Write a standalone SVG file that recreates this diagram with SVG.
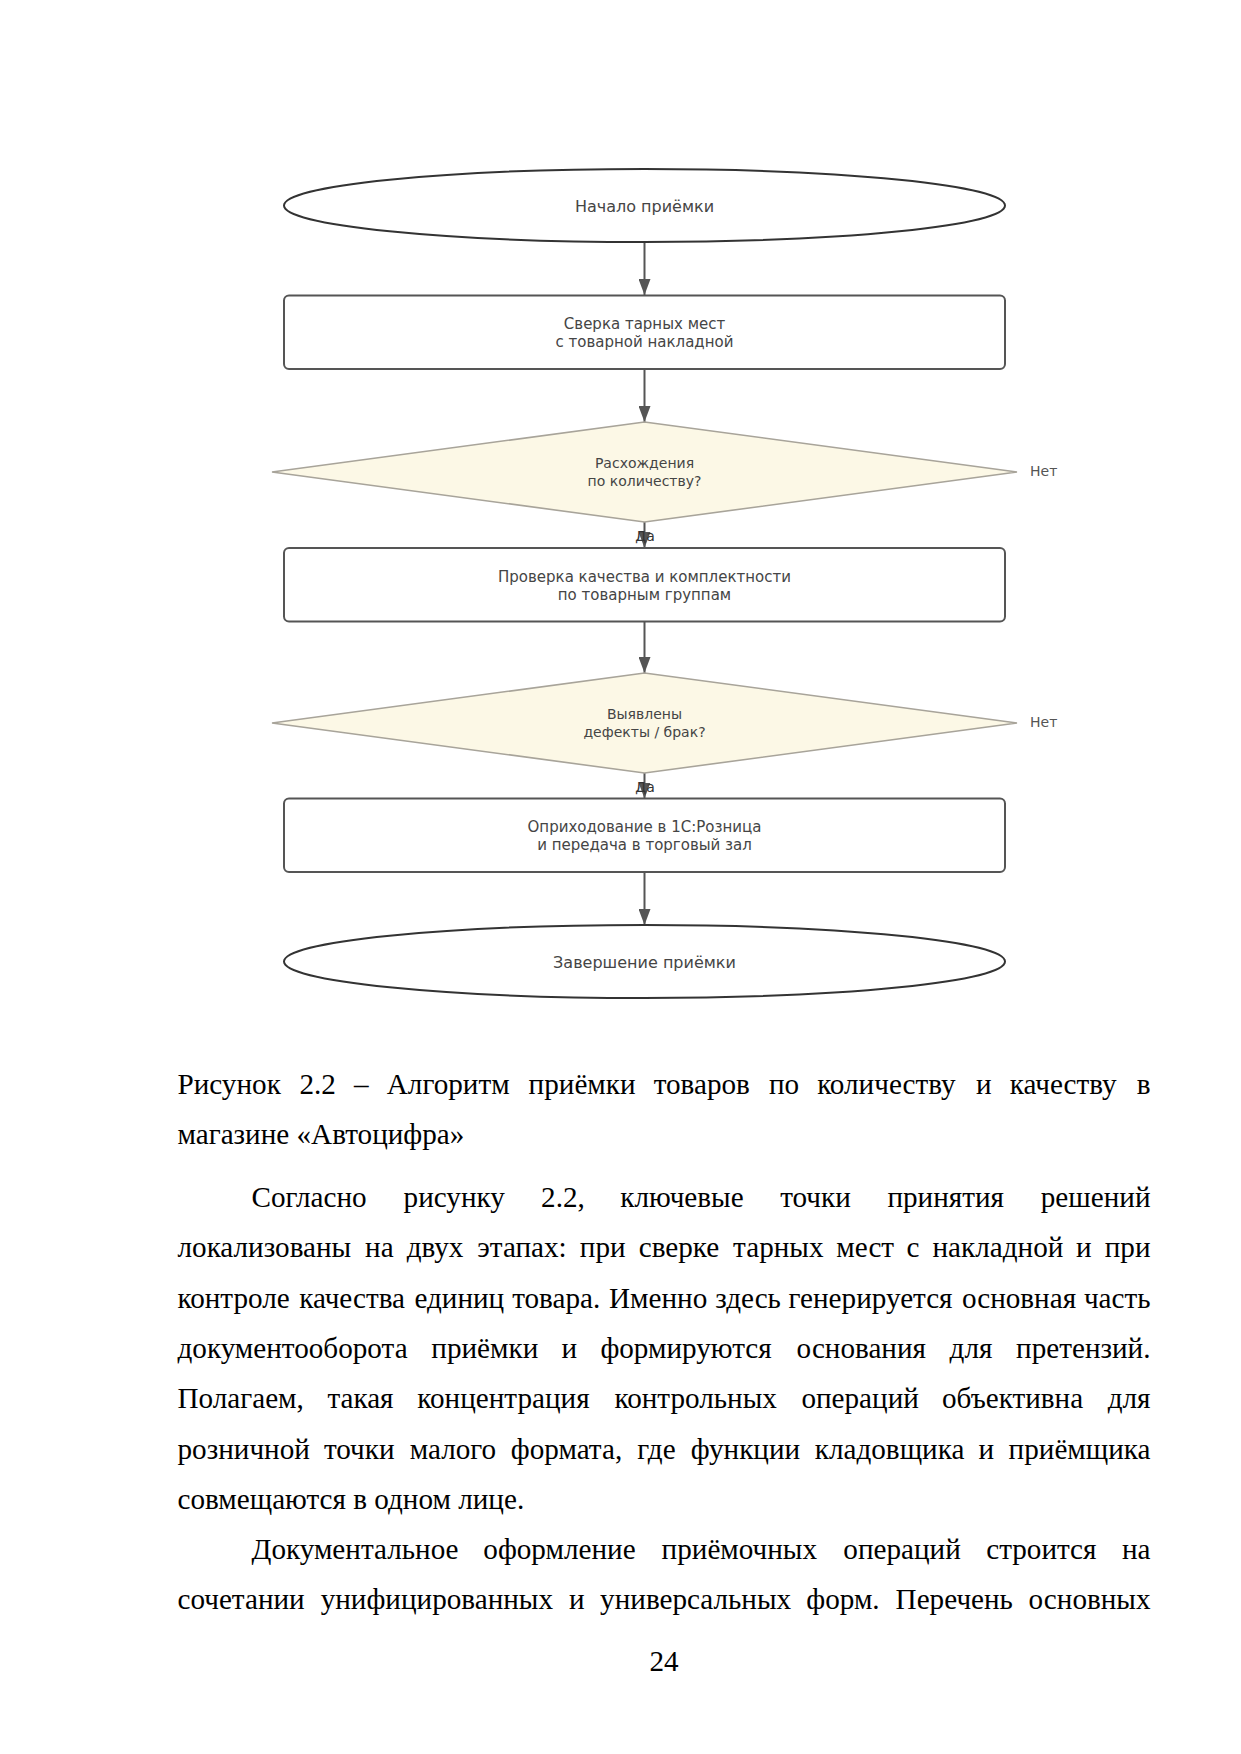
<svg xmlns="http://www.w3.org/2000/svg" width="1241" height="1754" viewBox="0 0 1241 1754">
<style>
.term{fill:#ffffff;stroke:#333333;stroke-width:2}
.proc{fill:#ffffff;stroke:#555555;stroke-width:2}
.dec{fill:#fcf8e6;stroke:#a8a49a;stroke-width:1.6}
.conn{stroke:#555555;stroke-width:2;fill:none}
.nt{font-family:"DejaVu Sans","Noto Sans",sans-serif;fill:#454545;text-anchor:middle}
.t16{font-size:16px}
.t15{font-size:15px}
.t14{font-size:14px}
.lbl{font-family:"DejaVu Sans","Noto Sans",sans-serif;font-size:14px;fill:#555555}
.da{font-family:"DejaVu Sans","Noto Sans",sans-serif;font-size:14px;fill:#333333;text-anchor:middle}
.body{font-family:"Liberation Serif","Times New Roman",serif;font-size:29.17px;fill:#000000}
.end{text-anchor:end}
</style>
<defs>
<marker id="arr" viewBox="0 0 16 12" refX="16" refY="6" markerWidth="16" markerHeight="12" markerUnits="userSpaceOnUse" orient="auto">
<path d="M0,0 L16,6 L0,12 Z" fill="#555555"/>
</marker>
</defs>
<rect x="0" y="0" width="1241" height="1754" fill="#ffffff"/>

<g id="connectors">
<line class="conn" x1="644.5" y1="242" x2="644.5" y2="295" marker-end="url(#arr)"/>
<line class="conn" x1="644.5" y1="369" x2="644.5" y2="422" marker-end="url(#arr)"/>
<line class="conn" x1="644.5" y1="522" x2="644.5" y2="548" marker-end="url(#arr)"/>
<line class="conn" x1="644.5" y1="621.5" x2="644.5" y2="673" marker-end="url(#arr)"/>
<line class="conn" x1="644.5" y1="773" x2="644.5" y2="798.5" marker-end="url(#arr)"/>
<line class="conn" x1="644.5" y1="872" x2="644.5" y2="925" marker-end="url(#arr)"/>
<text class="da" x="645" y="541">Да</text>
<text class="da" x="645" y="792">Да</text>
<text class="lbl" x="1030" y="476">Нет</text>
<text class="lbl" x="1030" y="727">Нет</text>
</g>

<g id="start">
<ellipse class="term" cx="644.5" cy="205.5" rx="360.5" ry="36.5"/>
<text class="nt t16" x="644.5" y="211.5">Начало приёмки</text>
</g>

<g id="check-places">
<rect class="proc" x="284" y="295.5" width="721" height="73.5" rx="5"/>
<text class="nt t15" x="644.5" y="329">Сверка тарных мест</text>
<text class="nt t15" x="644.5" y="347">с товарной накладной</text>
</g>

<g id="decision-qty">
<polygon class="dec" points="644.5,422 1017,472 644.5,522 272,472"/>
<text class="nt t14" x="644.5" y="468">Расхождения</text>
<text class="nt t14" x="644.5" y="486">по количеству?</text>
</g>

<g id="check-quality">
<rect class="proc" x="284" y="548" width="721" height="73.5" rx="5"/>
<text class="nt t15" x="644.5" y="581.5">Проверка качества и комплектности</text>
<text class="nt t15" x="644.5" y="599.5">по товарным группам</text>
</g>

<g id="decision-defects">
<polygon class="dec" points="644.5,673 1017,723 644.5,773 272,723"/>
<text class="nt t14" x="644.5" y="719">Выявлены</text>
<text class="nt t14" x="644.5" y="737">дефекты / брак?</text>
</g>

<g id="posting">
<rect class="proc" x="284" y="798.5" width="721" height="73.5" rx="5"/>
<text class="nt t15" x="644.5" y="832">Оприходование в 1С:Розница</text>
<text class="nt t15" x="644.5" y="850">и передача в торговый зал</text>
</g>

<g id="finish">
<ellipse class="term" cx="644.5" cy="961.5" rx="360.5" ry="36.5"/>
<text class="nt t16" x="644.5" y="967.5">Завершение приёмки</text>
</g>

<g id="caption">
<text class="body" y="1094"><tspan x="177.5">Рисунок</tspan><tspan x="299.4">2.2</tspan><tspan x="354.0">–</tspan><tspan x="386.8">Алгоритм</tspan><tspan x="528.6">приёмки</tspan><tspan x="653.7">товаров</tspan><tspan x="768.9">по</tspan><tspan x="817.2">количеству</tspan><tspan x="976.0">и</tspan><tspan x="1009.8">качеству</tspan></text>
<text class="body end" x="1150.5" y="1094">в</text>
<text class="body" x="177.5" y="1144.3">магазине «Автоцифра»</text>
</g>

<g id="body-text">
<text class="body" y="1207"><tspan x="251.5">Согласно</tspan><tspan x="403.6">рисунку</tspan><tspan x="541.1">2.2,</tspan><tspan x="620.3">ключевые</tspan><tspan x="780.2">точки</tspan><tspan x="887.4">принятия</tspan></text>
<text class="body end" x="1150.5" y="1207">решений</text>

<text class="body" y="1257.3"><tspan x="177.5">локализованы</tspan><tspan x="365.1">на</tspan><tspan x="406.7">двух</tspan><tspan x="477.3">этапах:</tspan><tspan x="579.8">при</tspan><tspan x="638.7">сверке</tspan><tspan x="733.1">тарных</tspan><tspan x="836.3">мест</tspan><tspan x="906.4">с</tspan><tspan x="932.5">накладной</tspan><tspan x="1076.1">и</tspan></text>
<text class="body end" x="1150.5" y="1257.3">при</text>

<text class="body" y="1307.6"><tspan x="177.5">контроле</tspan><tspan x="299.2">качества</tspan><tspan x="414.4">единиц</tspan><tspan x="512.2">товара.</tspan><tspan x="609.0">Именно</tspan><tspan x="715.2">здесь</tspan><tspan x="788.5">генерируется</tspan><tspan x="961.9">основная</tspan></text>
<text class="body end" x="1150.5" y="1307.6">часть</text>

<text class="body" y="1357.9"><tspan x="177.5">документооборота</tspan><tspan x="431.3">приёмки</tspan><tspan x="561.5">и</tspan><tspan x="600.4">формируются</tspan><tspan x="796.6">основания</tspan><tspan x="949.6">для</tspan></text>
<text class="body end" x="1150.5" y="1357.9">претензий.</text>

<text class="body" y="1408.2"><tspan x="177.5">Полагаем,</tspan><tspan x="327.4">такая</tspan><tspan x="417.3">концентрация</tspan><tspan x="614.5">контрольных</tspan><tspan x="801.4">операций</tspan><tspan x="942.0">объективна</tspan></text>
<text class="body end" x="1150.5" y="1408.2">для</text>

<text class="body" y="1458.5"><tspan x="177.5">розничной</tspan><tspan x="323.9">точки</tspan><tspan x="409.7">малого</tspan><tspan x="510.8">формата,</tspan><tspan x="637.3">где</tspan><tspan x="690.8">функции</tspan><tspan x="814.8">кладовщика</tspan><tspan x="978.6">и</tspan></text>
<text class="body end" x="1150.5" y="1458.5">приёмщика</text>

<text class="body" x="177.5" y="1508.8">совмещаются в одном лице.</text>

<text class="body" y="1559.1"><tspan x="251.5">Документальное</tspan><tspan x="483.3">оформление</tspan><tspan x="661.6">приёмочных</tspan><tspan x="843.3">операций</tspan><tspan x="986.2">строится</tspan></text>
<text class="body end" x="1150.5" y="1559.1">на</text>

<text class="body" y="1609.4"><tspan x="177.5">сочетании</tspan><tspan x="320.7">унифицированных</tspan><tspan x="569.0">и</tspan><tspan x="600.1">универсальных</tspan><tspan x="806.3">форм.</tspan><tspan x="895.6">Перечень</tspan></text>
<text class="body end" x="1150.5" y="1609.4">основных</text>

<text class="body" x="664" y="1670.5" text-anchor="middle">24</text>
</g>
</svg>
